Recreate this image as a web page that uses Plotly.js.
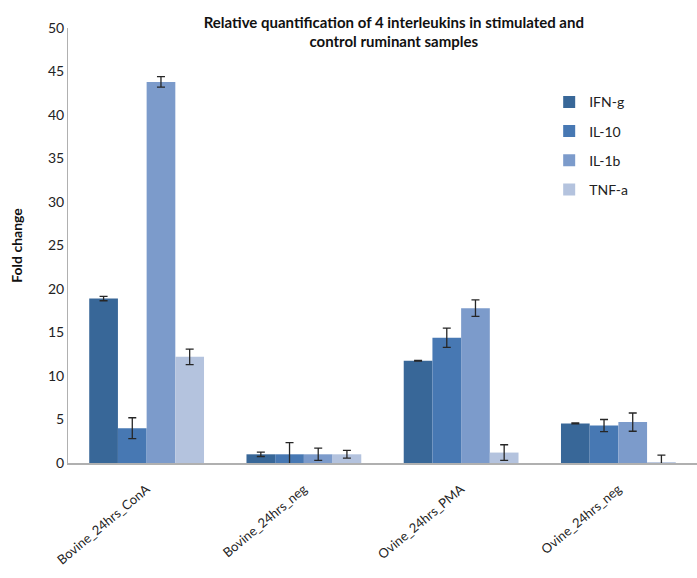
<!DOCTYPE html>
<html>
<head>
<meta charset="utf-8">
<script src="https://cdn.plot.ly/plotly-3.0.1.min.js"></script>
<style>html,body{margin:0;padding:0;background:#fff;}#chart{width:697px;height:578px;}</style>
</head>
<body>
<div id="chart"></div>
<script>
const categories = ["Bovine_24hrs_ConA", "Bovine_24hrs_neg", "Ovine_24hrs_PMA", "Ovine_24hrs_neg"];
const seriesNames = ["IFN-g", "IL-10", "IL-1b", "TNF-a"];
const ifng = [18.9, 1.0, 11.75, 4.55];
const il10 = [4.0, 1.0, 14.4, 4.3];
const il1b = [43.8, 1.0, 17.8, 4.7];
const tnfa = [12.2, 1.0, 1.2, 0.1];
const ifngErr = [0.25, 0.25, 0.05, 0.05];
const il10Err = [1.2, 1.35, 1.1, 0.7];
const il1bErr = [0.6, 0.7, 0.95, 1.05];
const tnfaErr = [0.9, 0.45, 0.9, 0.8];
const colors = ["#386798", "#4778b3", "#7c9bcb", "#b4c3de"];

const values = [ifng, il10, il1b, tnfa];
const errs = [ifngErr, il10Err, il1bErr, tnfaErr];

const traces = seriesNames.map((name, i) => ({
  type: "bar",
  name: name,
  x: categories,
  y: values[i],
  legendgroup: "g" + i,
  marker: {color: colors[i], line: {width: 0}},
  error_y: {type: "data", array: errs[i], visible: true, color: "#262626", thickness: 1.3, width: 4}
}));

const layout = {
  width: 697, height: 578,
  margin: {l: 68, r: 0, t: 28, b: 115},
  paper_bgcolor: "#fff", plot_bgcolor: "#fff",
  font: {family: "Lato, 'Open Sans', sans-serif", size: 13, color: "#222"},
  title: {
    text: "<b>Relative quantification of 4 interleukins in stimulated and<br>control ruminant samples</b>",
    font: {size: 15, color: "#111"},
    x: 0.565, xanchor: "center", y: 0.952, yanchor: "top", yref: "container"
  },
  barmode: "group",
  bargap: 0.27,
  bargroupgap: 0,
  showlegend: true,
  legend: {
    x: 0.765, y: 0.866, xanchor: "left", yanchor: "top",
    font: {size: 14, color: "#222"},
    tracegroupgap: 8,
    bgcolor: "rgba(0,0,0,0)"
  },
  xaxis: {
    type: "category",
    tickangle: -40,
    showline: true, linecolor: "#b0b0b0", linewidth: 1.5,
    ticks: "", showgrid: false, zeroline: false,
    ticklabelstandoff: 12,
    tickfont: {size: 13, color: "#222"}
  },
  yaxis: {
    range: [0, 50], dtick: 5,
    showline: true, linecolor: "#b0b0b0", linewidth: 1,
    ticks: "", showgrid: false, zeroline: false,
    tickfont: {size: 14, color: "#222"},
    title: {text: "<b>Fold change</b>", font: {size: 14, color: "#111"}, standoff: 22}
  }
};

Plotly.newPlot("chart", traces, layout, {displayModeBar: false, staticPlot: true});
</script>
</body>
</html>
